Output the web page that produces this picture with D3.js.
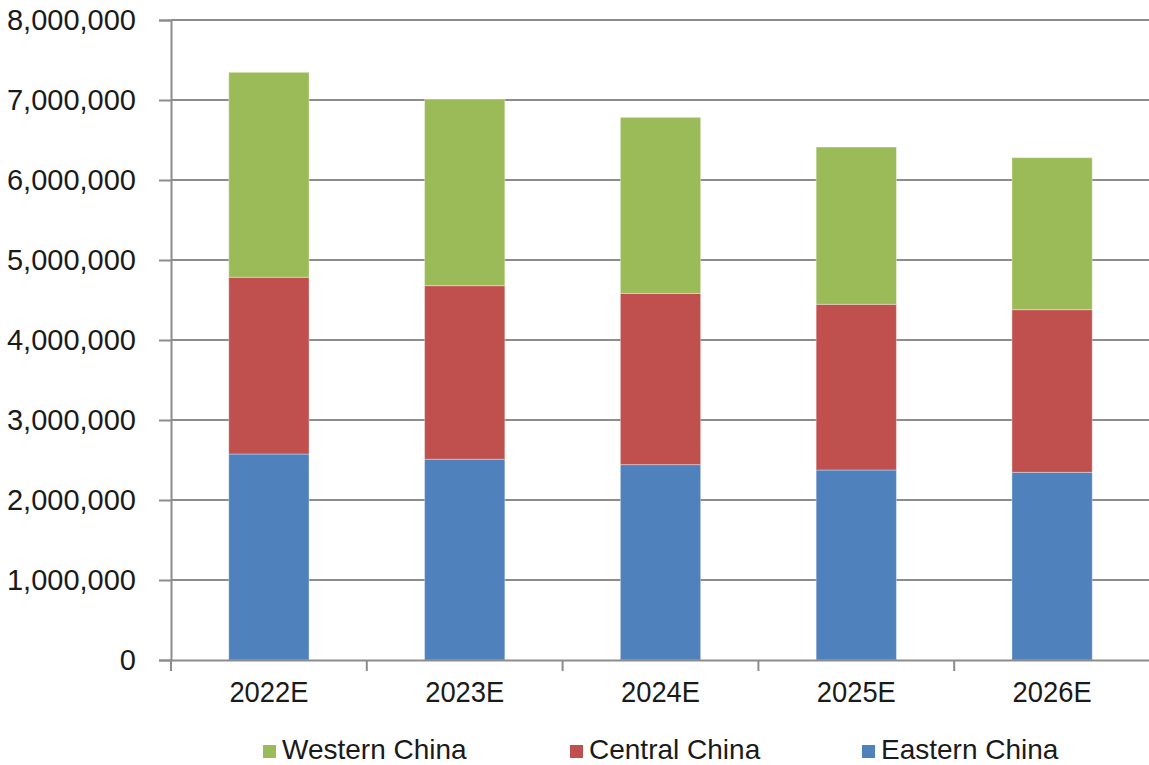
<!DOCTYPE html>
<html>
<head>
<meta charset="utf-8">
<script src="https://cdn.jsdelivr.net/npm/d3@7"></script>
<style>
  html, body { margin: 0; padding: 0; background: #fff; }
  svg { display: block; }
  text { font-family: Arial, "Liberation Sans", sans-serif; fill: #1a1a1a; }
</style>
</head>
<body>
<svg id="chart" width="1149" height="765"></svg>
<script>
const categories = ["2022E", "2023E", "2024E", "2025E", "2026E"];
const seriesNames = ["Eastern China", "Central China", "Western China"];
const easternChina = [2575000, 2510000, 2442000, 2375000, 2346000];
const centralChina = [2209000, 2169000, 2141000, 2071000, 2033000];
const westernChina = [2562000, 2329000, 2200000, 1966000, 1900000];
const yTicks = [0, 1000000, 2000000, 3000000, 4000000, 5000000, 6000000, 7000000, 8000000];
const legendOrder = ["Western China", "Central China", "Eastern China"];
const colors = { "Eastern China": "#4F81BD", "Central China": "#C0504D", "Western China": "#9BBB59" };

const rows = categories.map((c, i) => ({
  cat: c,
  "Eastern China": easternChina[i],
  "Central China": centralChina[i],
  "Western China": westernChina[i]
}));

const svg = d3.select("#chart");
const plotLeft = 171, plotRight = 1150, plotTop = 20, plotBottom = 660;

const x = d3.scaleBand().domain(categories).range([plotLeft, plotRight]).paddingInner(0.59).paddingOuter(0.295);
const y = d3.scaleLinear().domain([0, 8000000]).range([plotBottom, plotTop]);

const gridColor = "#8c8c8c";

// gridlines
svg.append("g").selectAll("line").data(yTicks.filter(d => d > 0)).join("line")
  .attr("x1", plotLeft).attr("x2", 1149)
  .attr("y1", d => y(d)).attr("y2", d => y(d))
  .attr("stroke", gridColor).attr("stroke-width", 2);

// stacked bars
const stack = d3.stack().keys(seriesNames)(rows);
svg.append("g").selectAll("g").data(stack).join("g")
  .attr("fill", d => colors[d.key])
  .selectAll("rect").data(d => d).join("rect")
  .attr("x", d => x(d.data.cat))
  .attr("width", x.bandwidth())
  .attr("y", d => y(d[1]))
  .attr("height", d => y(d[0]) - y(d[1]))
  .attr("stroke", "rgba(255,255,255,0.35)")
  .attr("stroke-width", 1);

// y axis
const yAxis = d3.axisLeft(y).tickValues(yTicks).tickSize(12).tickPadding(23)
  .tickFormat(d3.format(","));
const gy = svg.append("g").attr("transform", `translate(${plotLeft},0)`).call(yAxis);
gy.select(".domain").attr("stroke", gridColor).attr("stroke-width", 2);
gy.selectAll(".tick line").attr("stroke", gridColor).attr("stroke-width", 2);
gy.selectAll(".tick text").attr("font-size", 29).attr("fill", "#1a1a1a")
  .attr("font-family", "Arial, 'Liberation Sans', sans-serif");

// x axis
const xAxis = d3.axisBottom(x).tickSize(0).tickPadding(0);
const gx = svg.append("g").attr("transform", `translate(0,${plotBottom})`).call(xAxis);
gx.select(".domain").attr("stroke", gridColor).attr("stroke-width", 2);
gx.selectAll(".tick text").attr("font-size", 29).attr("fill", "#1a1a1a")
  .attr("font-family", "Arial, 'Liberation Sans', sans-serif")
  .attr("dy", 0).attr("y", 42).attr("textLength", 79).attr("lengthAdjust", "spacingAndGlyphs");

// category boundary ticks
const step = x.step();
const boundaries = categories.map(c => x(c) - x.paddingOuter() * step);
svg.append("g").selectAll("line").data(boundaries).join("line")
  .attr("x1", d => d).attr("x2", d => d)
  .attr("y1", plotBottom).attr("y2", plotBottom + 11)
  .attr("stroke", gridColor).attr("stroke-width", 2);

// legend
const legendX = { "Western China": 263, "Central China": 570, "Eastern China": 862 };
const lg = svg.append("g").selectAll("g").data(legendOrder).join("g")
  .attr("transform", d => `translate(${legendX[d]},745)`);
lg.append("rect").attr("width", 13).attr("height", 13).attr("fill", d => colors[d]);
lg.append("text").attr("x", 19).attr("y", 14).attr("font-size", 28)
  .text(d => d);
</script>
</body>
</html>
